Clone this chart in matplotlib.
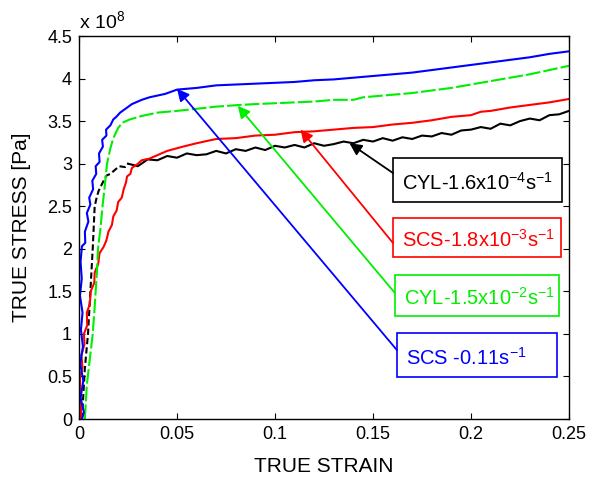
import matplotlib
matplotlib.use("Agg")
import matplotlib.pyplot as plt
from matplotlib.patches import Rectangle

plt.rcParams['font.family'] = ['Liberation Sans', 'DejaVu Sans']
plt.rcParams['mathtext.fontset'] = 'custom'
plt.rcParams['mathtext.rm'] = 'Liberation Sans'
plt.rcParams['mathtext.it'] = 'Liberation Sans'
plt.rcParams['mathtext.bf'] = 'Liberation Sans:bold'

# ---- data (stress in units of 1e8 Pa) ----
blue_strain = [0.0015, 0.0025, 0.0008, 0.0022, 0.0006, 0.0020, 0.0010, 0.0018, 0.0005, 0.0014,
               0.0008, 0.0015, 0.0032, 0.0030, 0.0048, 0.0040, 0.0058, 0.0052, 0.0072, 0.0068,
               0.0088, 0.0085, 0.0105, 0.0102, 0.0122, 0.0118, 0.0140, 0.0138, 0.0160, 0.0175,
               0.0190, 0.0210, 0.0240, 0.0270, 0.0320, 0.0360, 0.0440, 0.0500, 0.0600, 0.0700,
               0.0800, 0.0900, 0.1000, 0.1100, 0.1200, 0.1300, 0.1400, 0.1500, 0.1600, 0.1700,
               0.1800, 0.1900, 0.2000, 0.2100, 0.2200, 0.2300, 0.2400, 0.2500]
blue_stress = [0.00, 0.08, 0.25, 0.45, 0.65, 0.85, 1.05, 1.25, 1.45, 1.65,
               1.85, 2.03, 2.07, 2.20, 2.32, 2.42, 2.52, 2.60, 2.70, 2.80,
               2.88, 2.97, 3.02, 3.12, 3.20, 3.28, 3.33, 3.40, 3.45, 3.52,
               3.55, 3.60, 3.65, 3.70, 3.75, 3.78, 3.82, 3.87, 3.89, 3.92,
               3.93, 3.94, 3.95, 3.96, 3.98, 3.99, 4.01, 4.03, 4.05, 4.07,
               4.10, 4.13, 4.16, 4.19, 4.22, 4.25, 4.29, 4.32]

green_strain = [0.0030, 0.0035, 0.0040, 0.0050, 0.0060, 0.0070, 0.0078, 0.0085, 0.0092, 0.0097,
                0.0110, 0.0120, 0.0132, 0.0143, 0.0160, 0.0175, 0.0200, 0.0220, 0.0260, 0.0320,
                0.0400, 0.0500, 0.0620, 0.0700, 0.0820, 0.0900, 0.1000, 0.1100, 0.1200, 0.1300,
                0.1400, 0.1450, 0.1500, 0.1600, 0.1700, 0.1800, 0.1900, 0.2000, 0.2100, 0.2200,
                0.2300, 0.2400, 0.2500]
green_stress = [0.00, 0.20, 0.40, 0.60, 0.80, 1.00, 1.25, 1.50, 1.75, 2.00,
                2.25, 2.50, 2.75, 3.00, 3.18, 3.30, 3.42, 3.48, 3.52, 3.56,
                3.60, 3.62, 3.65, 3.67, 3.69, 3.70, 3.71, 3.72, 3.73, 3.75,
                3.75, 3.78, 3.79, 3.81, 3.83, 3.86, 3.89, 3.93, 3.97, 4.01,
                4.05, 4.10, 4.15]

black_strain = [0.0015, 0.0020, 0.0025, 0.0030, 0.0038, 0.0046, 0.0052, 0.0058, 0.0064, 0.0070,
                0.0075, 0.0080, 0.0090, 0.0100, 0.0115, 0.0130, 0.0140, 0.0160, 0.0180, 0.0205,
                0.0235, 0.0250, 0.0300, 0.0350, 0.0400, 0.0450, 0.0500, 0.0550, 0.0600, 0.0650,
                0.0700, 0.0750, 0.0800, 0.0850, 0.0900, 0.0950, 0.1000, 0.1050, 0.1100, 0.1150,
                0.1200, 0.1250, 0.1300, 0.1350, 0.1400, 0.1450, 0.1500, 0.1550, 0.1600, 0.1650,
                0.1700, 0.1750, 0.1800, 0.1850, 0.1900, 0.1950, 0.2000, 0.2050, 0.2100, 0.2150,
                0.2200, 0.2250, 0.2300, 0.2350, 0.2400, 0.2450, 0.2500]
black_stress = [0.00, 0.20, 0.40, 0.60, 0.80, 1.00, 1.25, 1.50, 1.75, 2.00,
                2.25, 2.50, 2.60, 2.68, 2.75, 2.82, 2.86, 2.88, 2.92, 2.97,
                2.96, 3.00, 2.97, 3.05, 3.04, 3.09, 3.07, 3.12, 3.10, 3.11,
                3.15, 3.12, 3.17, 3.15, 3.19, 3.16, 3.21, 3.19, 3.22, 3.19,
                3.24, 3.21, 3.23, 3.26, 3.24, 3.28, 3.26, 3.30, 3.27, 3.31,
                3.29, 3.33, 3.32, 3.36, 3.34, 3.39, 3.40, 3.43, 3.41, 3.47,
                3.45, 3.50, 3.53, 3.51, 3.57, 3.58, 3.62]

red_strain = [0.0000, 0.0010, 0.0005, 0.0018, 0.0012, 0.0028, 0.0025, 0.0042, 0.0040, 0.0055,
              0.0060, 0.0078, 0.0080, 0.0098, 0.0105, 0.0125, 0.0140, 0.0150, 0.0168, 0.0175,
              0.0192, 0.0200, 0.0218, 0.0228, 0.0240, 0.0245, 0.0262, 0.0270, 0.0296, 0.0320,
              0.0360, 0.0400, 0.0450, 0.0530, 0.0600, 0.0700, 0.0800, 0.0900, 0.1000, 0.1100,
              0.1200, 0.1300, 0.1400, 0.1500, 0.1600, 0.1700, 0.1800, 0.1900, 0.2000, 0.2050,
              0.2100, 0.2200, 0.2300, 0.2400, 0.2500]
red_stress = [0.30, 0.00, 0.50, 0.60, 0.75, 0.88, 1.00, 1.10, 1.25, 1.35,
              1.50, 1.60, 1.72, 1.82, 1.95, 2.02, 2.10, 2.20, 2.28, 2.38,
              2.45, 2.55, 2.60, 2.70, 2.78, 2.85, 2.88, 2.95, 2.99, 3.04,
              3.06, 3.10, 3.15, 3.20, 3.24, 3.29, 3.30, 3.33, 3.34, 3.37,
              3.38, 3.40, 3.42, 3.43, 3.46, 3.48, 3.51, 3.55, 3.57, 3.61,
              3.62, 3.66, 3.69, 3.72, 3.76]

labels = ["CYL-1.6x10$^{-4}$s$^{-1}$", "SCS-1.8x10$^{-3}$s$^{-1}$",
          "CYL-1.5x10$^{-2}$s$^{-1}$", "SCS -0.11s$^{-1}$"]
colors = ["black", "#ff0000", "#00ee00", "#0000ff"]

xticks = [0, 0.05, 0.1, 0.15, 0.2, 0.25]
xticklabels = ["0", "0.05", "0.1", "0.15", "0.2", "0.25"]
yticks = [0, 0.5, 1, 1.5, 2, 2.5, 3, 3.5, 4, 4.5]
yticklabels = ["0", "0.5", "1", "1.5", "2", "2.5", "3", "3.5", "4", "4.5"]

fig = plt.figure(figsize=(5.89, 4.79), dpi=100)
ax = fig.add_axes([79/589, 1-419/479, (569-79)/589, (419-36)/479])

lw = 1.5
k = 22  # black: dashed rise, solid noisy plateau
ax.plot(black_strain[:k], black_stress[:k], color=colors[0], lw=lw, ls=(0, (3, 1.5)))
ax.plot(black_strain[k - 1:], black_stress[k - 1:], color=colors[0], lw=lw)
ax.plot(red_strain, red_stress, color=colors[1], lw=lw)
ax.plot(green_strain, green_stress, color=colors[2], lw=lw, ls=(0, (7, 1.5)))
ax.plot(blue_strain, blue_stress, color=colors[3], lw=lw)

ax.set_xlim(0, 0.25)
ax.set_ylim(0, 4.5)
ax.set_xticks(xticks)
ax.set_xticklabels(xticklabels)
ax.set_yticks(yticks)
ax.set_yticklabels(yticklabels)
ax.tick_params(direction='in', top=True, right=True, length=4, labelsize=13, pad=5)
for s in ax.spines.values():
    s.set_linewidth(1.0)

ax.set_xlabel("TRUE STRAIN", fontsize=15)
ax.set_ylabel("TRUE STRESS [Pa]", fontsize=15)
ax.xaxis.set_label_coords(0.5, -0.1)
ax.yaxis.set_label_coords(-0.098, 0.5)
ax.text(0.0, 1.02, "x 10$^8$", transform=ax.transAxes, fontsize=14, ha='left', va='baseline')

# annotation boxes: (x0, x1, y0, y1) in data coords, arrow start y, arrow tip
boxes = [(0.1602, 0.2464, 2.55, 3.067, 2.89, (0.138, 3.24)),
         (0.1602, 0.2459, 1.903, 2.362, 2.068, (0.113, 3.40)),
         (0.1612, 0.2449, 1.210, 1.692, 1.480, (0.081, 3.68)),
         (0.1622, 0.2439, 0.493, 1.010, 0.810, (0.0500, 3.88))]
for (x0, x1, y0, y1, ya, tip), lab, c in zip(boxes, labels, colors):
    ax.add_patch(Rectangle((x0, y0), x1 - x0, y1 - y0, fill=True, facecolor='white',
                           edgecolor=c, lw=1.2, zorder=5))
    ax.text(x0 + 0.0045, (y0 + y1) / 2 - 0.03, lab, color=c, fontsize=14.5,
            ha='left', va='center', zorder=6)
    ax.annotate("", xy=tip, xytext=(x0, ya),
                arrowprops=dict(arrowstyle='-|>', color=c, lw=1.3, mutation_scale=18,
                                shrinkA=0, shrinkB=0), zorder=6)

fig.savefig("out.png", dpi=100)
